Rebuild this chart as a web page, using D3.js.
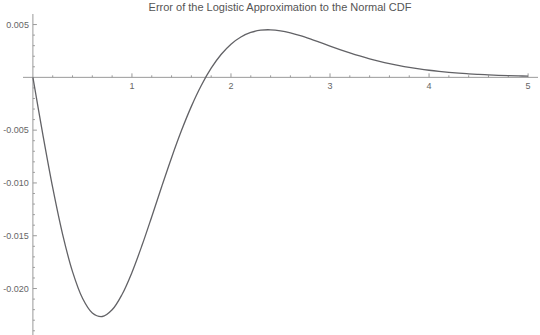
<!DOCTYPE html>
<html><head><meta charset="utf-8">
<script src="https://cdn.jsdelivr.net/npm/d3@7"></script>
<style>body{margin:0;background:#fff}svg{display:block}</style>
</head><body>
<svg id="c" width="540" height="335"></svg>
<script>
const title = "Error of the Logistic Approximation to the Normal CDF";
const xs = [0,0.1,0.2,0.3,0.4,0.5,0.6,0.7,0.8,0.9,1.0,1.1,1.2,1.3,1.4,1.5,1.6,1.7,1.8,1.9,2.0,2.1,2.2,2.3,2.4,2.5,2.6,2.7,2.8,2.9,3.0,3.1,3.2,3.3,3.4,3.5,3.6,3.7,3.8,3.9,4.0,4.1,4.2,4.3,4.4,4.5,4.6,4.7,4.8,4.9,5.0];
const errs = [0,-0.005394,-0.010449,-0.014864,-0.018400,-0.020903,-0.022311,-0.022649,-0.022014,-0.020561,-0.018476,-0.015956,-0.013195,-0.010363,-0.007610,-0.005043,-0.002748,-0.000771,0.000867,0.002165,0.003142,0.003826,0.004254,0.004468,0.004505,0.004408,0.004212,0.003945,0.003635,0.003303,0.002965,0.002634,0.002319,0.002025,0.001756,0.001514,0.001298,0.001108,0.000942,0.000798,0.000674,0.000568,0.000478,0.000401,0.000337,0.000282,0.000236,0.000197,0.000165,0.000137,0.000115];
const xTickVals = [1,2,3,4,5];
const yTickVals = [0.005,-0.005,-0.010,-0.015,-0.020];
const yTickLabels = ["0.005","-0.005","-0.010","-0.015","-0.020"];

const svg = d3.select("#c");
const x = d3.scaleLinear().domain([-0.1,5.1]).range([23,538]);
const y = d3.scaleLinear().domain([-0.0244,0.0060]).range([335,14]);
const axisCol = "#9a9a9a", txtCol = "#666";

// x axis
const x0 = y(0), y0 = x(0);
svg.append("line").attr("x1",x(-0.1)).attr("x2",x(5.1)).attr("y1",x0).attr("y2",x0).attr("stroke",axisCol).attr("stroke-width",1);
const xMinor = d3.range(1,26).map(i=>i*0.2).filter(v=>Math.abs(v-Math.round(v))>1e-6);
svg.selectAll(".xmn").data(xMinor).join("line").attr("x1",d=>x(d)).attr("x2",d=>x(d)).attr("y1",x0).attr("y2",x0-2).attr("stroke",axisCol);
svg.selectAll(".xmj").data(xTickVals).join("line").attr("x1",d=>x(d)).attr("x2",d=>x(d)).attr("y1",x0).attr("y2",x0-4).attr("stroke",axisCol);
svg.selectAll(".xl").data(xTickVals).join("text").attr("x",d=>x(d)).attr("y",x0+12).attr("text-anchor","middle")
  .attr("font-family","Liberation Sans, Arial, sans-serif").attr("font-size",9).attr("fill",txtCol).text(d=>d);

// y axis
svg.append("line").attr("x1",y0).attr("x2",y0).attr("y1",y(0.0060)).attr("y2",y(-0.0244)).attr("stroke",axisCol).attr("stroke-width",1);
const yMinor = d3.range(-24,6).map(i=>i*0.001).filter(v=>Math.abs(v*200-Math.round(v*200))>1e-6);
svg.selectAll(".ymn").data(yMinor).join("line").attr("x1",y0).attr("x2",y0+2).attr("y1",d=>y(d)).attr("y2",d=>y(d)).attr("stroke",axisCol);
svg.selectAll(".ymj").data(yTickVals).join("line").attr("x1",y0).attr("x2",y0+4).attr("y1",d=>y(d)).attr("y2",d=>y(d)).attr("stroke",axisCol);
svg.selectAll(".yl").data(yTickVals).join("text").attr("x",y0-4).attr("y",d=>y(d)+3).attr("text-anchor","end")
  .attr("font-family","Liberation Sans, Arial, sans-serif").attr("font-size",9).attr("fill",txtCol).text((d,i)=>yTickLabels[i]);

// curve
const pts = xs.map((v,i)=>[v,errs[i]]);
svg.append("path").datum(pts).attr("fill","none").attr("stroke","#626266").attr("stroke-width",1.3)
  .attr("d",d3.line().x(d=>x(d[0])).y(d=>y(d[1])).curve(d3.curveCatmullRom.alpha(0.5)));

// title
svg.append("text").attr("x",280).attr("y",11).attr("text-anchor","middle")
  .attr("font-family","Liberation Sans, Arial, sans-serif").attr("font-size",11).attr("fill","#555").text(title);
</script>
</body></html>
